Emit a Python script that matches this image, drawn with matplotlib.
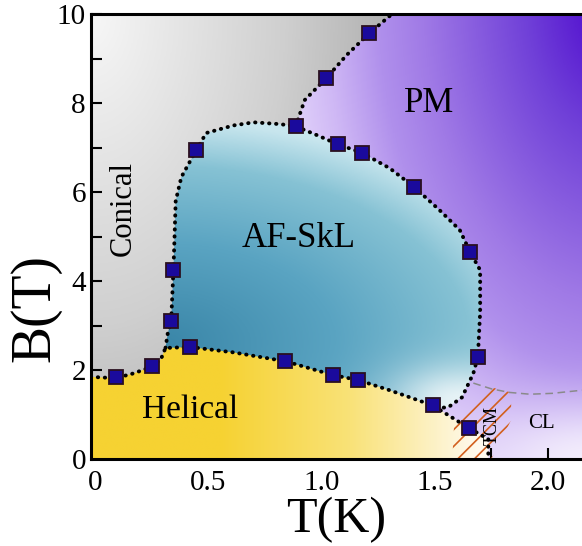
import numpy as np
import matplotlib
matplotlib.use("Agg")
import matplotlib.pyplot as plt
from matplotlib.patches import Polygon
from matplotlib.colors import LinearSegmentedColormap

plt.rcParams['font.family'] = ['Liberation Serif', 'DejaVu Serif']
plt.rcParams['hatch.linewidth'] = 1.2
plt.rcParams['hatch.color'] = '#d2601e'

# measured points (T in K, B in T)
T_pts = [0.09, 0.25, 0.335, 0.345, 0.445, 0.42, 0.84, 0.885, 1.02, 1.21,
         1.07, 1.18, 1.41, 1.656, 1.69, 1.05, 1.16, 1.49, 1.65]
B_pts = [1.85, 2.1, 3.1, 4.25, 6.94, 2.52, 2.2, 7.48, 8.56, 9.57,
         7.08, 6.88, 6.11, 4.65, 2.3, 1.89, 1.78, 1.21, 0.70]

# helical / upper phases boundary
helical_T = [-0.02, 0.09, 0.17, 0.25, 0.29, 0.31, 0.42, 0.61, 0.84, 1.05, 1.16, 1.3, 1.49, 1.65, 1.736]
helical_B = [1.85, 1.82, 1.93, 2.08, 2.25, 2.5, 2.52, 2.4, 2.2, 1.89, 1.78, 1.55, 1.21, 0.70, 0.45]

# AF-SkL pocket boundary
skl_T = [0.31, 0.32, 0.335, 0.345, 0.35, 0.355, 0.38, 0.43, 0.445, 0.49, 0.61, 0.70, 0.815, 0.885,
         0.98, 1.07, 1.18, 1.30, 1.41, 1.52, 1.61, 1.656, 1.70, 1.70, 1.69, 1.67, 1.62, 1.56, 1.52, 1.49]
skl_B = [2.5, 2.83, 3.1, 4.25, 5.0, 5.8, 6.34, 6.8, 6.94, 7.33, 7.5, 7.57, 7.53, 7.48,
         7.28, 7.08, 6.88, 6.54, 6.11, 5.6, 5.15, 4.65, 4.25, 3.3, 2.3, 1.93, 1.39, 1.17, 1.15, 1.21]

# conical / PM boundary
con_T = [0.885, 0.925, 1.02, 1.11, 1.21, 1.31]
con_B = [7.48, 8.07, 8.56, 9.08, 9.57, 10.0]

# CL crossover (dashed)
cl_T = [1.67, 1.75, 1.83, 1.92, 2.02, 2.15]
cl_B = [1.71, 1.58, 1.5, 1.46, 1.48, 1.55]

# TCM hatched area
tcm_T = [1.577, 1.749, 1.837, 1.837, 1.73, 1.586]
tcm_B = [0.0, 0.0, 0.88, 1.5, 1.64, 0.88]

x0, x1 = -0.02, 2.15

fig = plt.figure(figsize=(5.82, 5.46), dpi=100)
ax = fig.add_axes([0.156, 0.159, 0.844, 0.815])
ax.set_xlim(x0, x1)
ax.set_ylim(0, 10)

xs = np.linspace(x0, x1, 400)
ys = np.linspace(0, 10, 400)
X, Y = np.meshgrid(xs, ys)


def paint(rgba, verts, z):
    patch = Polygon(verts, closed=True, facecolor='none', edgecolor='none', transform=ax.transData)
    ax.add_patch(patch)
    im = ax.imshow(rgba, extent=(x0, x1, 0, 10), origin='lower', aspect='auto',
                   interpolation='bilinear', zorder=z)
    im.set_clip_path(patch)


def whiten(rgba, glow):
    rgba[..., :3] = rgba[..., :3] * (1 - glow[..., None]) + glow[..., None]
    return rgba


# conical (grey) background
gray = LinearSegmentedColormap.from_list('g', [(0, '#f7f7f7'), (0.6, '#cfcfcf'), (1, '#aaaaaa')])
d = np.sqrt(((X - x0) / 1.1) ** 2 + ((10 - Y) / 9) ** 2) / 1.3
paint(gray(np.clip(d, 0, 1)), [(x0, 0), (x1, 0), (x1, 10), (x0, 10)], 0)

# PM (purple)
purple = LinearSegmentedColormap.from_list('p', [(0, '#4800cc'), (0.28, '#7040d8'), (0.6, '#a07ae6'),
                                                 (0.74, '#b090ec'), (0.9, '#cfb8f5'), (1, '#ddccf9')])
d = np.sqrt(((X - 2.3) / 1.1) ** 2 + ((Y - 10.5) / 9) ** 2) / 1.3
rgba = purple(np.clip(d, 0, 1))
rgba = whiten(rgba, 0.75 * np.exp(-(((X - 2.2) / 0.5) ** 2 + (Y / 1.3) ** 2)))
pm_verts = list(zip(con_T, con_B)) + [(x1, 10), (x1, 0), (1.0, 0), (1.0, 5.0)]
paint(rgba, pm_verts, 1)

# AF-SkL (teal)
teal = LinearSegmentedColormap.from_list('t', [(0, '#3a86a8'), (0.45, '#5aa4c2'), (0.8, '#86c2d4'), (1, '#c8e6ee')])
d = np.sqrt(((X - 0.3) / 1.7) ** 2 + ((Y - 2.6) / 5) ** 2)
rgba = teal(np.clip(d, 0, 1))
rgba = whiten(rgba, 0.8 * np.exp(-(((X - 1.6) / 0.3) ** 2 + ((Y - 1.3) / 0.8) ** 2)))
skl_verts = list(zip(skl_T, skl_B)) + [(1.0, 1.5), (0.4, 2.0)]
paint(rgba, skl_verts, 2)

# helical (yellow)
yellow = LinearSegmentedColormap.from_list('y', [(0, '#f6d232'), (0.5, '#f9e278'), (1, '#fffaf0')])
t = np.clip((X - 0.55) / 1.15, 0, 1)
hel_verts = list(zip(helical_T, helical_B)) + [(1.736, 0), (x0, 0)]
paint(yellow(t), hel_verts, 3)

# TCM hatch
ax.add_patch(Polygon(list(zip(tcm_T, tcm_B)), closed=True, facecolor='none',
                     edgecolor='#d2601e', linewidth=0, hatch='//', zorder=4))

# boundaries
dot = dict(color='black', linewidth=2.8, linestyle=(0, (0.1, 1.7)), dash_capstyle='round', zorder=5)
ax.plot(helical_T + [1.736], helical_B + [0.0], **dot)
ax.plot(skl_T, skl_B, **dot)
ax.plot(con_T, con_B, **dot)
ax.plot(cl_T, cl_B, color='#8a8a8a', linestyle=(0, (5, 3)), linewidth=1.1, zorder=5)

ax.plot(T_pts, B_pts, linestyle='none', marker='s', markersize=10,
        markerfacecolor='#1a0a9c', markeredgecolor='#2a1020', markeredgewidth=1.3, zorder=6)

# phase labels
ax.text(1.475, 8.0, 'PM', fontsize=25, ha='center', va='center', zorder=7)
ax.text(0.125, 5.64, 'Conical', fontsize=22, rotation=90, ha='center', va='center', zorder=7)
ax.text(0.90, 4.97, 'AF-SkL', fontsize=25, ha='center', va='center', zorder=7)
ax.text(0.42, 1.1, 'Helical', fontsize=24, ha='center', va='center', zorder=7)
ax.text(1.97, 0.81, 'CL', fontsize=15, ha='center', va='center', zorder=7)
ax.text(1.755, 0.76, 'TCM', fontsize=13, rotation=90, ha='center', va='center', zorder=7)

# axes styling
ax.set_xticks([0, 0.5, 1.0, 1.5, 2.0])
ax.set_xticklabels(['0', '0.5', '1.0', '1.5', '2.0'])
ax.set_xticks(np.arange(0.25, 2.1, 0.5), minor=True)
ax.set_yticks([0, 2, 4, 6, 8, 10])
ax.set_yticks([1, 3, 5, 7, 9], minor=True)
ax.tick_params(which='both', direction='in', length=8, width=1.5, labelsize=21)
ax.tick_params(axis='x', pad=8)
ax.spines['right'].set_visible(False)
for s in ['left', 'bottom', 'top']:
    ax.spines[s].set_linewidth(2.2)
    ax.spines[s].set_zorder(8)

ax.set_xlabel('T(K)', fontsize=36, labelpad=0)
ax.set_ylabel('B(T)', fontsize=40)
ax.yaxis.set_label_coords(-0.06, 0.34)

fig.savefig('out.png', dpi=100)
